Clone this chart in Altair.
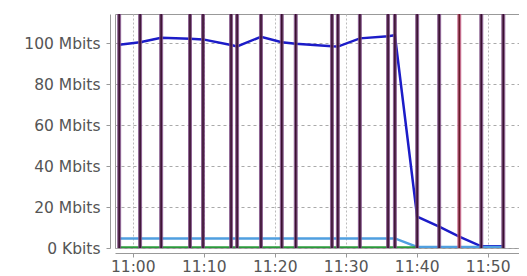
import altair as alt
import pandas as pd

DAY = "2024-01-01T"

# Event markers (vertical bars)
event_times = ["10:58:05", "11:01:02", "11:04:00", "11:08:04", "11:09:54",
               "11:13:51", "11:14:42", "11:18:04", "11:21:00", "11:22:58",
               "11:28:04", "11:28:54", "11:32:00", "11:35:58", "11:36:56",
               "11:40:04", "11:43:10", "11:46:00", "11:49:06", "11:52:12"]
event_kind = ["normal"] * 17 + ["alert"] + ["normal"] * 2

# Main throughput series (Mbits)
main_times = event_times
main_values = [99.3, 100.5, 102.7, 102.2, 101.9, 99.2, 98.5, 103.2, 100.5, 99.8,
               98.5, 98.4, 102.4, 103.4, 103.9, 15.3, 10.4, 5.5, 0.8, 0.8]

light_times = ["10:58:05", "11:36:56", "11:40:04", "11:52:12"]
light_values = [4.7, 4.7, 0.5, 0.5]

green_times = ["10:58:05", "11:40:04"]
green_values = [0.3, 0.3]

y_tick_values = [0, 20, 40, 60, 80, 100]
y_tick_labels = ["0 Kbits", "20 Mbits", "40 Mbits", "60 Mbits", "80 Mbits", "100 Mbits"]
x_tick_labels = ["11:00", "11:10", "11:20", "11:30", "11:40", "11:50"]

rows = []
for name, ts, vs in [("main", main_times, main_values),
                     ("light", light_times, light_values),
                     ("green", green_times, green_values)]:
    for t, v in zip(ts, vs):
        rows.append({"series": name, "time": DAY + t, "value": v})
lines_df = pd.DataFrame(rows)
events_df = pd.DataFrame({"time": [DAY + t for t in event_times], "kind": event_kind})

label_expr = "''"
for v, lab in zip(y_tick_values, y_tick_labels):
    label_expr = f"datum.value == {v} ? '{lab}' : ({label_expr})"

x_values = [alt.DateTime(year=2024, month=1, date=1, hours=int(l.split(":")[0]),
                         minutes=int(l.split(":")[1])) for l in x_tick_labels]

x_scale = alt.Scale(domain=[alt.DateTime(year=2024, month=1, date=1, hours=10, minutes=57, seconds=30),
                            alt.DateTime(year=2024, month=1, date=1, hours=11, minutes=54, seconds=25)])
y_scale = alt.Scale(domain=[0, 114.3], nice=False, zero=False)

FONT = "DejaVu Sans"

x_axis = alt.Axis(values=x_values, format="%H:%M", title=None, offset=5, tickSize=4,
                  labelFontSize=15.5, labelFont=FONT, labelColor="#555", labelPadding=2,
                  domainColor="#999", tickColor="#999", grid=True, gridColor="#bbb",
                  gridDash=[2, 2], labelFlush=False)
y_axis = alt.Axis(values=y_tick_values, labelExpr=label_expr, title=None, offset=5,
                  tickSize=4, labelFontSize=15.5, labelFont=FONT, labelColor="#555",
                  labelPadding=6, domainColor="#999", tickColor="#999", grid=True,
                  gridColor="#aaa", gridDash=[3, 3])

X = lambda f: alt.X(f, scale=x_scale, axis=x_axis)
Y = lambda f: alt.Y(f, scale=y_scale, axis=y_axis)

lines = alt.Chart(lines_df).mark_line(strokeWidth=2.5, clip=True).encode(
    x=X("time:T"),
    y=Y("value:Q"),
    color=alt.Color("series:N", scale=alt.Scale(domain=["main", "light", "green"],
                                                range=["#1c1cc8", "#4f9fe0", "#2a9a3a"]),
                    legend=None),
    order=alt.Order("time:T"),
    detail="series:N",
)

ev = alt.Chart(events_df)
ev_outer = ev.mark_rule(strokeWidth=4, opacity=0.85).encode(
    x=X("time:T"),
    color=alt.Color("kind:N", scale=alt.Scale(domain=["normal", "alert"],
                                              range=["#7a4a80", "#c05a80"]), legend=None),
)
ev_inner = ev.mark_rule(strokeWidth=1.6).encode(
    x=X("time:T"),
    color=alt.Color("kind:N", scale=alt.Scale(domain=["normal", "alert"],
                                              range=["#3a1030", "#6a1a2a"]), legend=None),
)

chart = alt.layer(lines, ev_outer, ev_inner).resolve_scale(color="independent").properties(
    width=404, height=234,
    padding={"left": 107, "top": 6, "right": 0, "bottom": 28},
    autosize=alt.AutoSizeParams(type="none"),
).configure_view(stroke="#999", strokeWidth=1)

chart.save("out.html", embed_options={"renderer": "svg", "actions": False})
